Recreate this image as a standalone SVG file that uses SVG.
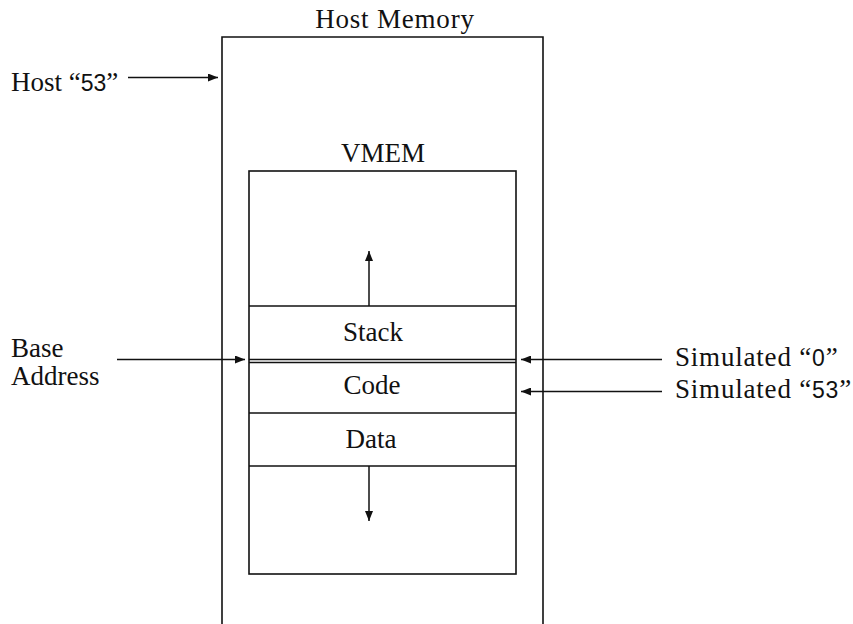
<svg xmlns="http://www.w3.org/2000/svg" width="853" height="624" viewBox="0 0 853 624">
  <style>
    .box { fill: none; stroke: #111; stroke-width: 1.6; }
    .ln { stroke: #111; stroke-width: 1.5; fill: none; }
    .lbl { font-family: "Liberation Serif", "Times New Roman", serif; font-size: 27px; fill: #111; }
    .wide { letter-spacing: 0.8px; }
    .num { font-family: "Liberation Sans", Arial, sans-serif; font-size: 23px; }
  </style>
  <defs>
    <marker id="arr" viewBox="0 0 10 8" refX="10" refY="4" markerWidth="11" markerHeight="8" markerUnits="userSpaceOnUse" orient="auto">
      <path d="M0,0 L10,4 L0,8 Z" fill="#111"/>
    </marker>
  </defs>
  <rect width="853" height="624" fill="#fff"/>

  <!-- host memory outline (open at the bottom) -->
  <g id="host-memory">
    <text class="lbl wide" x="395" y="28" text-anchor="middle">Host Memory</text>
    <path class="box" d="M222,624 V37 H543 V624"/>
  </g>

  <!-- virtual memory region -->
  <g id="vmem">
    <text class="lbl" x="383" y="162" text-anchor="middle">VMEM</text>
    <rect class="box" x="249" y="171" width="267" height="403"/>
  </g>

  <g id="stack">
    <line class="ln" x1="249" y1="306" x2="516" y2="306"/>
    <text class="lbl" x="373" y="341" text-anchor="middle">Stack</text>
    <line class="ln" x1="249" y1="359.5" x2="516" y2="359.5"/>
    <line class="ln" x1="249" y1="362.5" x2="516" y2="362.5"/>
  </g>

  <g id="code">
    <text class="lbl" x="372" y="394" text-anchor="middle">Code</text>
    <line class="ln" x1="249" y1="413" x2="516" y2="413"/>
  </g>

  <g id="data">
    <text class="lbl" x="371" y="448" text-anchor="middle">Data</text>
    <line class="ln" x1="249" y1="466" x2="516" y2="466"/>
  </g>

  <g id="host-53">
    <text class="lbl" x="11" y="91">Host “<tspan class="num">53</tspan>”</text>
  </g>

  <g id="base-address">
    <text class="lbl" x="11" y="357">Base</text>
    <text class="lbl" x="11" y="385">Address</text>
  </g>

  <g id="sim-0">
    <text class="lbl wide" x="675" y="366">Simulated “<tspan class="num">0</tspan>”</text>
  </g>

  <g id="sim-53">
    <text class="lbl wide" x="675" y="398">Simulated “<tspan class="num">53</tspan>”</text>
  </g>

  <!-- connectors -->
  <g id="connectors">
    <line class="ln" x1="128" y1="77.5" x2="218" y2="77.5" marker-end="url(#arr)"/>
    <line class="ln" x1="117" y1="359.5" x2="245" y2="359.5" marker-end="url(#arr)"/>
    <line class="ln" x1="662" y1="359.5" x2="521" y2="359.5" marker-end="url(#arr)"/>
    <line class="ln" x1="662" y1="391.5" x2="521" y2="391.5" marker-end="url(#arr)"/>
    <line class="ln" x1="369" y1="306" x2="369" y2="251" marker-end="url(#arr)"/>
    <line class="ln" x1="369" y1="466" x2="369" y2="521" marker-end="url(#arr)"/>
  </g>
</svg>
